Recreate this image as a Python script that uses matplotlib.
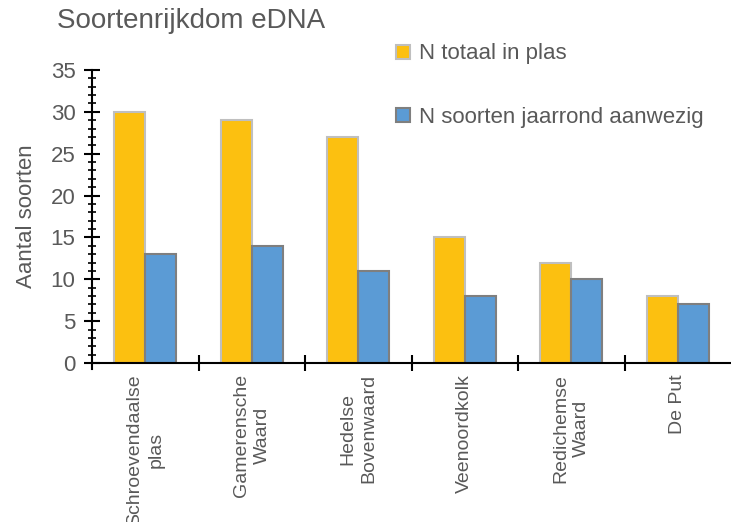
import matplotlib.pyplot as plt
from matplotlib.ticker import MultipleLocator, FixedLocator, NullFormatter
import numpy as np

plt.rcParams['font.family'] = ['Liberation Sans', 'DejaVu Sans']

categories = ['Schroevendaalse\nplas', 'Gamerensche\nWaard', 'Hedelse\nBovenwaard',
              'Veenoordkolk', 'Redichemse\nWaard', 'De Put']
n_totaal = [30, 29, 27, 15, 12, 8]
n_jaarrond = [13, 14, 11, 8, 10, 7]

grey = '#595959'
fig = plt.figure(figsize=(7.31, 5.22), dpi=100)
ax = fig.add_axes([0.126, 0.3046, 0.874, 0.5613])

x = np.arange(len(categories))
w = 0.29
ax.bar(x - w / 2, n_totaal, w, color='#FCC010', edgecolor='#BFBFBF', linewidth=1.5,
       label='N totaal in plas')
ax.bar(x + w / 2, n_jaarrond, w, color='#5B9BD5', edgecolor='#7F7F7F', linewidth=1.5,
       label='N soorten jaarrond aanwezig')

ax.set_xlim(-0.5, len(categories) - 0.5)
ax.set_ylim(0, 35)
ax.spines['top'].set_visible(False)
ax.spines['right'].set_visible(False)
ax.spines['left'].set_linewidth(1.5)
ax.spines['bottom'].set_linewidth(1.5)

ax.yaxis.set_major_locator(MultipleLocator(5))
ax.yaxis.set_minor_locator(MultipleLocator(1))
ax.tick_params(axis='y', which='major', direction='inout', length=12, width=1.5,
               labelsize=16, labelcolor=grey, pad=6)
ax.tick_params(axis='y', which='minor', direction='inout', length=6, width=1.2)

# category boundaries; the last one falls on the edge of the picture
ax.xaxis.set_major_locator(FixedLocator(x[:-1] - 0.5 + 1))
ax.xaxis.set_major_formatter(NullFormatter())
ax.xaxis.set_minor_locator(FixedLocator(x))
ax.set_xticklabels(categories, minor=True, rotation=90, ha='center', va='top',
                   multialignment='center', linespacing=1.3, fontsize=14, color=grey)
ax.tick_params(axis='x', which='major', direction='inout', length=12, width=1.5)
ax.tick_params(axis='x', which='minor', length=0, pad=8)
ax.axvline(-0.5, ymin=-0.02, ymax=0, color='black', lw=1.5, clip_on=False)

ax.set_ylabel('Aantal soorten', fontsize=16, color=grey, labelpad=10)
fig.text(0.078, 0.96, 'Soortenrijkdom eDNA', fontsize=20, color=grey, va='center')

fig.legend(loc='upper left', bbox_to_anchor=(0.515, 0.955), frameon=False,
           fontsize=16, labelcolor=grey, handlelength=0.6, handleheight=0.6,
           handletextpad=0.4, labelspacing=1.9)

plt.savefig('out.png', dpi=100)
